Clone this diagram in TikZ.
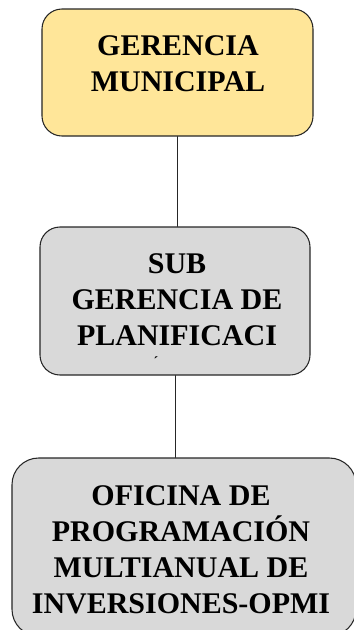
\documentclass[tikz,border=0pt]{standalone}
\usepackage{fontspec}
\setmainfont{Liberation Serif}
\usepackage{xcolor}
\usepackage{tikz}
\usetikzlibrary{positioning}

\definecolor{gerfill}{HTML}{FFE699}
\definecolor{subfill}{HTML}{D9D9D9}
\definecolor{edge}{HTML}{262626}

\tikzset{
  unitbox/.style={draw=edge, line width=0.9pt, rounded corners=0.6cm, inner sep=0pt},
  boxtext/.style={align=center, inner sep=0pt, anchor=base,
    font=\fontsize{25.6}{30.7}\selectfont\bfseries},
  link/.style={draw=edge, line width=0.8pt}
}

\begin{document}
\begin{tikzpicture}[x=0.03cm, y=-0.03cm, line join = round, line cap = round]

                \useasboundingbox (0,0) rectangle (353,630);

                % the three units
                \node [unitbox, fill=gerfill, minimum width=8.13cm, minimum height=3.81cm] (ger) at (177.5,72.5) {};
                \node [unitbox, fill=subfill, minimum width=8.1cm, minimum height=4.44cm] (sub) at (175,301) {};
                \node [unitbox, fill=subfill, rounded corners=0.8cm, minimum width=10.32cm, minimum height=5.34cm] (opmi) at (184,547) {};

                % texts (base = last line)
                \node [boxtext] (gertxt) at (178,91) {GERENCIA\\MUNICIPAL};
                \node [boxtext] (subtxt) at (177,345) {SUB\\GERENCIA DE\\PLANIFICACI};
                \node [boxtext, font=\fontsize{12}{12}\selectfont\bfseries] (subcut) at (156,366) {´};
                \node [boxtext] (opmitxt) at (181,613) {OFICINA DE\\PROGRAMACIÓN\\MULTIANUAL DE\\INVERSIONES-OPMI};

                % links
                \draw [link] (ger.south) -- (ger.south |- sub.north);
                \draw [link] (sub.south) -- (sub.south |- opmi.north);
              \end{tikzpicture}
\end{document}
